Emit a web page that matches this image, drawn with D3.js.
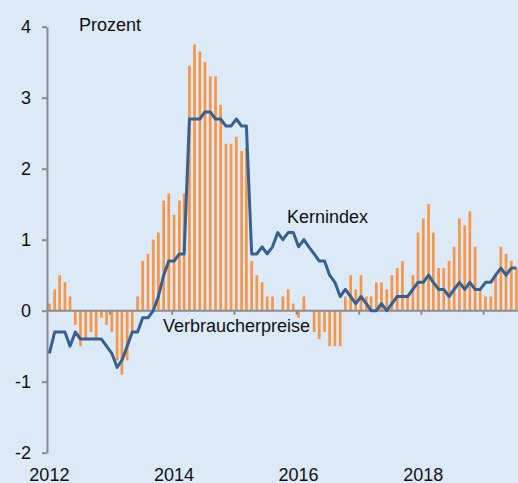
<!DOCTYPE html>
<html>
<head>
<meta charset="utf-8">
<script src="https://cdn.jsdelivr.net/npm/d3@7"></script>
<style>
  html, body { margin: 0; padding: 0; background: #dce9f7; }
  svg { display: block; font-family: "Liberation Sans", Arial, sans-serif; }
  .axis path, .axis line { stroke: #8c8c8c; stroke-width: 2px; }
  .axis text { font-size: 18px; fill: #111; }
  .label { font-size: 18px; fill: #111; }
</style>
</head>
<body>
<svg width="518" height="483"></svg>
<script>
  // Monatswerte ab Januar 2012, Veraenderung gegenueber Vorjahr in %
  const startYear = 2012;

  const verbraucherpreise = [
    0.1, 0.3, 0.5, 0.4, 0.2, -0.2, -0.5, -0.4, -0.3, -0.4, -0.1, -0.2,   // 2012
    -0.3, -0.7, -0.9, -0.7, -0.3, 0.2, 0.7, 0.8, 1.0, 1.1, 1.55, 1.65,   // 2013
    1.35, 1.55, 1.65, 3.45, 3.75, 3.65, 3.5, 3.3, 3.3, 2.9, 2.35, 2.35,  // 2014
    2.45, 2.25, 2.3, 0.7, 0.5, 0.4, 0.2, 0.2, 0.0, 0.2, 0.3, 0.1,        // 2015
    -0.1, 0.2, 0.0, -0.3, -0.4, -0.3, -0.5, -0.5, -0.5, 0.2, 0.5, 0.3,   // 2016
    0.5, 0.2, 0.2, 0.4, 0.4, 0.3, 0.5, 0.6, 0.7, 0.2, 0.5, 1.1,          // 2017
    1.3, 1.5, 1.1, 0.6, 0.6, 0.7, 0.9, 1.3, 1.2, 1.4, 0.9, 0.3,          // 2018
    0.2, 0.2, 0.5, 0.9, 0.8, 0.7, 0.6                                    // 2019
  ];

  const kernindex = [
    -0.6, -0.3, -0.3, -0.3, -0.5, -0.3, -0.4, -0.4, -0.4, -0.4, -0.4, -0.5,  // 2012
    -0.6, -0.8, -0.7, -0.5, -0.3, -0.3, -0.1, -0.1, 0.0, 0.2, 0.5, 0.7,      // 2013
    0.7, 0.8, 0.8, 2.7, 2.7, 2.7, 2.8, 2.8, 2.7, 2.7, 2.6, 2.6,              // 2014
    2.7, 2.6, 2.6, 0.8, 0.8, 0.9, 0.8, 0.9, 1.1, 1.0, 1.1, 1.1,              // 2015
    0.9, 1.0, 0.9, 0.8, 0.7, 0.7, 0.5, 0.4, 0.2, 0.3, 0.2, 0.1,              // 2016
    0.2, 0.1, 0.0, 0.0, 0.1, 0.0, 0.1, 0.2, 0.2, 0.2, 0.3, 0.4,              // 2017
    0.4, 0.5, 0.4, 0.3, 0.3, 0.2, 0.3, 0.4, 0.3, 0.4, 0.3, 0.3,              // 2018
    0.4, 0.4, 0.5, 0.6, 0.5, 0.6, 0.6                                        // 2019
  ];

  const yTicks = [-2, -1, 0, 1, 2, 3, 4];
  const tickYears = [2013, 2014, 2015, 2016, 2017, 2018, 2019];
  const labelYears = [2012, 2014, 2016, 2018];

  const svg = d3.select('svg');
  const width = +svg.attr('width');

  // Monatsmitte als Position
  const monthDate = i => new Date(startYear, i, 15);

  const x = d3.scaleTime()
    .domain([new Date(2012, 0, 1), new Date(2020, 0, 1)])
    .range([47, 47 + 8 * 62.3]);

  const y = d3.scaleLinear()
    .domain([-2, 4])
    .range([452.7, 26.7]);

  const barW = 2.7;

  // Balken Verbraucherpreise
  svg.append('g')
    .selectAll('rect')
    .data(verbraucherpreise)
    .enter()
    .append('rect')
      .attr('x', (d, i) => x(monthDate(i)) - barW / 2)
      .attr('y', d => y(Math.max(0, d)))
      .attr('width', barW)
      .attr('height', d => Math.abs(y(d) - y(0)))
      .attr('fill', '#f79646');

  // y-Achse (einfacher Bindestrich als Minus wie im Original)
  const yAxisG = svg.append('g')
    .attr('class', 'axis')
    .attr('transform', `translate(${x(new Date(2012, 0, 1))},0)`)
    .call(d3.axisLeft(y).tickValues(yTicks).tickFormat(d => String(d))
      .tickSize(5).tickSizeOuter(0).tickPadding(11));
  yAxisG.selectAll('text').attr('dy', '0.34em');

  // x-Achse auf der Nulllinie
  const xAxisG = svg.append('g')
    .attr('class', 'axis')
    .attr('transform', `translate(0,${y(0)})`)
    .call(d3.axisBottom(x).tickValues(tickYears.map(yr => new Date(yr, 0, 1)))
      .tickFormat('').tickSize(4).tickSizeOuter(0));
  xAxisG.select('.domain').attr('d', `M${x(new Date(2012, 0, 1))},0H${width}`);

  // Jahreslabels unten
  svg.append('g')
    .selectAll('text')
    .data(labelYears)
    .enter()
    .append('text')
      .attr('class', 'label')
      .attr('x', d => x(new Date(d, 0, 15)))
      .attr('y', 480.5)
      .attr('text-anchor', 'middle')
      .text(d => d);

  // Linie Kernindex
  const line = d3.line()
    .x((d, i) => x(monthDate(i)))
    .y(d => y(d));

  svg.append('path')
    .datum(kernindex)
    .attr('d', line)
    .attr('fill', 'none')
    .attr('stroke', '#376092')
    .attr('stroke-width', 3)
    .attr('stroke-linejoin', 'round');

  // Beschriftungen
  svg.append('text').attr('class', 'label').attr('x', 79).attr('y', 31).text('Prozent');
  svg.append('text').attr('class', 'label').attr('x', 287).attr('y', 222.5).text('Kernindex');
  svg.append('text').attr('class', 'label').attr('x', 163).attr('y', 331.5).text('Verbraucherpreise');
</script>
</body>
</html>
